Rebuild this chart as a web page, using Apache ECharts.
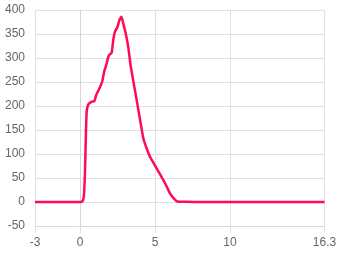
<!DOCTYPE html>
<html><head><meta charset="utf-8">
<script src="https://cdn.jsdelivr.net/npm/echarts@6/dist/echarts.min.js"></script>
<style>html,body{margin:0;padding:0;background:#fff}#c{width:340px;height:255px}</style>
</head><body><div id="c"></div>
<script>
var xValues = [-3,-2,-1,0,0.1,0.18,0.25,0.33,0.4,0.45,0.55,0.67,0.8,0.95,1.07,1.22,1.33,1.49,1.62,1.73,1.89,2.0,2.11,2.22,2.33,2.49,2.62,2.76,2.89,3.07,3.22,3.38,3.56,3.78,4.0,4.22,4.44,4.67,4.89,5.11,5.33,5.67,6.0,6.18,6.49,7,8,9,10,11,12,13,14,15,16.3];
var yValues = [0,0,0,0,0.5,2,10,60,150,190,203,207,209,210,222,232,239,252,273,283,303,308,311,338,355,364,378,386,371,348,322,283,251,212,172,133,112,94,82,70,58,39,18,10,1,0.5,0,0,0,0,0,0,0,0,0];
var xTicks = [-3,0,5,10,16.3];
var yMin = -50, yMax = 400, yStep = 50;

var data = xValues.map(function(x,i){return [x,yValues[i]];});
var chart = echarts.init(document.getElementById('c'), null, {renderer:'canvas'});
var font = {color:'#666', fontSize:12, fontFamily:'Liberation Sans, Arial, sans-serif'};
chart.setOption({
  animation:false,
  grid:{left:35,right:15.5,top:10,bottom:29,containLabel:false},
  xAxis:{
    type:'value', min:xTicks[0], max:xTicks[xTicks.length-1],
    axisLine:{show:true,onZero:false,lineStyle:{color:'#d6d6d6'}},
    axisTick:{show:true,length:7,customValues:xTicks,lineStyle:{color:'#e0e0e0'}},
    axisLabel:Object.assign({customValues:xTicks,margin:11,formatter:function(v){return String(v);}},font),
    splitLine:{show:true,lineStyle:{color:'#e0e0e0'}}
  },
  yAxis:{
    type:'value', min:yMin, max:yMax, interval:yStep,
    axisLine:{show:true,lineStyle:{color:'#d6d6d6'}},
    axisTick:{show:true,length:8,lineStyle:{color:'#e0e0e0'}},
    axisLabel:Object.assign({margin:10},font),
    splitLine:{show:true,lineStyle:{color:'#e0e0e0'}}
  },
  series:[{
    type:'line', data:data, showSymbol:false, smooth:0.2,
    lineStyle:{color:'#ff0a54',width:2.5}
  }]
});
</script></body></html>
